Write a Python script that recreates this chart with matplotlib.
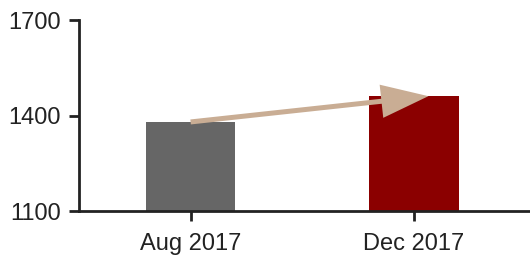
import matplotlib
matplotlib.use("Agg")
import matplotlib.pyplot as plt

categories = ["Aug 2017", "Dec 2017"]
values = [1380, 1461]
colors = ["#666666", "#8B0000"]
yticks = [1100, 1400, 1700]

plt.rcParams['font.family'] = ['Liberation Sans', 'DejaVu Sans']

fig = plt.figure(figsize=(5.30, 2.58), dpi=100)
ax = fig.add_axes([0.149, 0.182, 0.851, 0.740])

x = list(range(len(categories)))
ax.bar(x, [v - yticks[0] for v in values], bottom=yticks[0], width=0.40, color=colors, zorder=2)

ax.set_ylim(yticks[0], yticks[-1])
ax.set_xlim(-0.5, 1.52)
ax.set_yticks(yticks)
ax.set_xticks(x)
ax.set_xticklabels(categories)

for s in ["top", "right"]:
    ax.spines[s].set_visible(False)
for s in ["left", "bottom"]:
    ax.spines[s].set_linewidth(2)
    ax.spines[s].set_color("#222222")
ax.tick_params(axis="both", length=7, width=2, color="#222222", labelsize=17, labelcolor="#222222")
ax.tick_params(axis="x", pad=9)
ax.tick_params(axis="y", pad=6)

ax.annotate("", xy=(1.065, values[1]), xytext=(0, values[0]),
            arrowprops=dict(arrowstyle="simple,head_length=1.7,head_width=1.2,tail_width=0.18",
                            mutation_scale=20, facecolor="#C9AD94", edgecolor="none",
                            lw=0, shrinkA=0, shrinkB=0), zorder=3)

fig.savefig("out.png", dpi=100)
